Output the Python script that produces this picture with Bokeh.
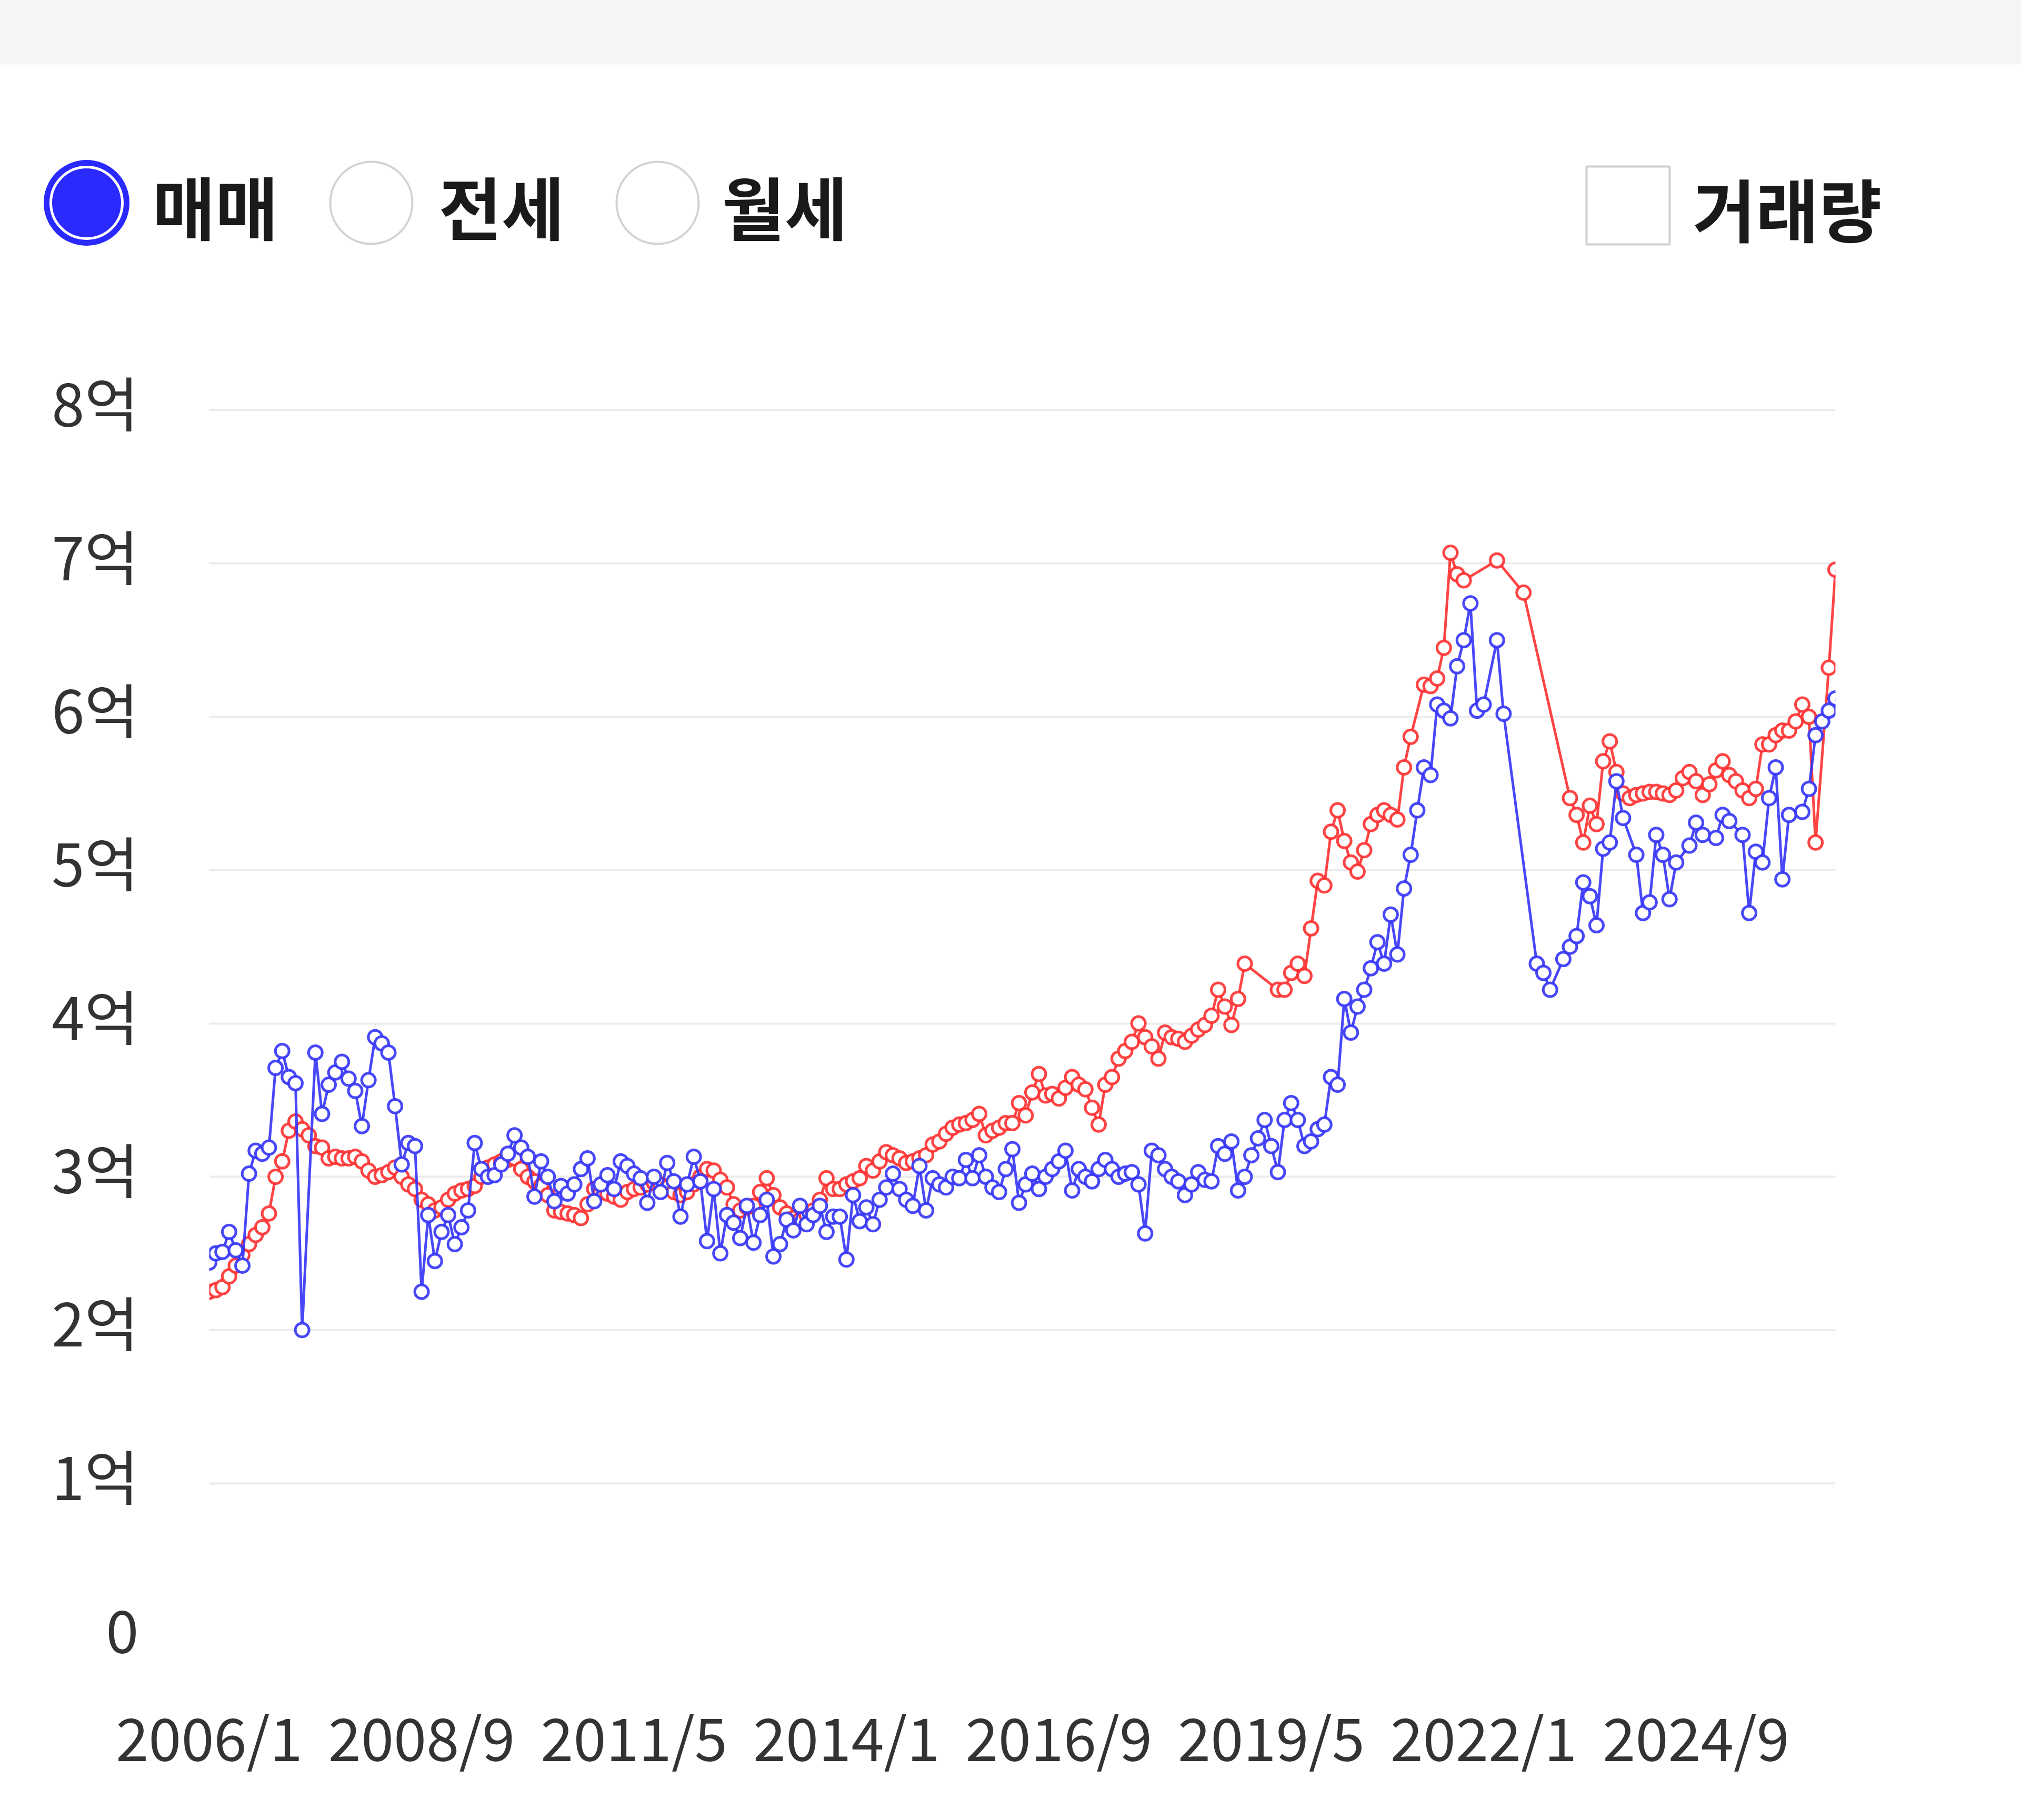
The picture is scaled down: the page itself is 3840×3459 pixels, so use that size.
from bokeh.plotting import figure
from bokeh.models import Range1d, FixedTicker, ColumnDataSource
from bokeh.embed import file_html
from bokeh.resources import INLINE
from bokeh.core.properties import value

# ---------------- data (억 원), one value per month from 2006/1; None = no point ----------------
START_YEAR = 2006

red_values = [
    2.25, 2.26, 2.28, 2.35, 2.42, 2.49, 2.56, 2.62, 2.67, 2.76,
    3.00, 3.10, 3.30, 3.36, 3.31, 3.27, 3.20, 3.19, 3.12, 3.13,
    3.12, 3.12, 3.13, 3.10, 3.04, 3.00, 3.01, 3.03, 3.06, 3.00,
    2.95, 2.92, 2.85, 2.82, 2.78, 2.80, 2.85, 2.89, 2.91, 2.92,
    2.94, 3.00, 3.06, 3.08, 3.10, 3.11, 3.12, 3.05, 3.00, 2.97,
    2.94, 2.88, 2.78, 2.77, 2.76, 2.75, 2.73, 2.82, 2.92, 2.90,
    2.89, 2.87, 2.85, 2.90, 2.92, 2.93, 2.95, 2.96, 2.95, 2.93,
    2.90, 2.88, 2.90, 2.95, 3.00, 3.05, 3.04, 2.98, 2.93, 2.82,
    2.78, 2.80, 2.81, 2.90, 2.99, 2.88, 2.80, 2.76, 2.73, 2.72,
    2.75, 2.78, 2.85, 2.99, 2.92, 2.92, 2.95, 2.97, 2.99, 3.07,
    3.04, 3.10, 3.16, 3.14, 3.12, 3.09, 3.10, 3.12, 3.14, 3.21,
    3.23, 3.28, 3.32, 3.34, 3.35, 3.37, 3.41, 3.27, 3.30, 3.32,
    3.35, 3.35, 3.48, 3.40, 3.55, 3.67, 3.53, 3.54, 3.51, 3.58,
    3.65, 3.60, 3.57, 3.45, 3.34, 3.60, 3.65, 3.77, 3.82, 3.88,
    4.00, 3.91, 3.85, 3.77, 3.94, 3.91, 3.90, 3.88, 3.92, 3.96,
    3.99, 4.05, 4.22, 4.11, 3.99, 4.16, 4.39, None, None, None,
    None, 4.22, 4.22, 4.33, 4.39, 4.31, 4.62, 4.93, 4.90, 5.25,
    5.39, 5.19, 5.05, 4.99, 5.13, 5.30, 5.36, 5.39, 5.36, 5.33,
    5.67, 5.87, None, 6.21, 6.20, 6.25, 6.45, 7.07, 6.93, 6.89,
    None, None, None, None, 7.02, None, None, None, 6.81, None,
    None, None, None, None, None, 5.47, 5.36, 5.18, 5.42, 5.30,
    5.71, 5.84, 5.64, 5.50, 5.47, 5.49, 5.50, 5.51, 5.51, 5.50,
    5.49, 5.52, 5.60, 5.64, 5.58, 5.49, 5.56, 5.65, 5.71, 5.62,
    5.58, 5.52, 5.47, 5.53, 5.82, 5.82, 5.88, 5.91, 5.91, 5.97,
    6.08, 6.00, 5.18, None, 6.32, 6.96,
]

blue_values = [
    2.44, 2.50, 2.51, 2.64, 2.52, 2.42, 3.02, 3.17, 3.15, 3.19,
    3.71, 3.82, 3.65, 3.61, 2.00, None, 3.81, 3.41, 3.60, 3.68,
    3.75, 3.64, 3.56, 3.33, 3.63, 3.91, 3.87, 3.81, 3.46, 3.08,
    3.22, 3.20, 2.25, 2.75, 2.45, 2.64, 2.75, 2.56, 2.67, 2.78,
    3.22, 3.05, 3.00, 3.01, 3.08, 3.15, 3.27, 3.19, 3.13, 2.87,
    3.10, 3.00, 2.84, 2.94, 2.89, 2.95, 3.05, 3.12, 2.84, 2.95,
    3.01, 2.92, 3.10, 3.07, 3.02, 2.99, 2.83, 3.00, 2.90, 3.09,
    2.97, 2.74, 2.95, 3.13, 2.97, 2.58, 2.92, 2.50, 2.75, 2.70,
    2.60, 2.81, 2.57, 2.75, 2.85, 2.48, 2.56, 2.72, 2.65, 2.81,
    2.69, 2.75, 2.81, 2.64, 2.74, 2.74, 2.46, 2.88, 2.71, 2.80,
    2.69, 2.85, 2.93, 3.02, 2.92, 2.85, 2.81, 3.07, 2.78, 2.99,
    2.95, 2.93, 3.00, 2.99, 3.11, 2.99, 3.14, 3.00, 2.93, 2.90,
    3.05, 3.18, 2.83, 2.95, 3.02, 2.92, 3.00, 3.05, 3.10, 3.17,
    2.91, 3.05, 3.00, 2.97, 3.05, 3.11, 3.05, 3.00, 3.02, 3.03,
    2.95, 2.63, 3.17, 3.14, 3.05, 3.00, 2.97, 2.88, 2.95, 3.03,
    2.98, 2.97, 3.20, 3.15, 3.23, 2.91, 3.00, 3.14, 3.25, 3.37,
    3.20, 3.03, 3.37, 3.48, 3.37, 3.20, 3.23, 3.31, 3.34, 3.65,
    3.60, 4.16, 3.94, 4.11, 4.22, 4.36, 4.53, 4.39, 4.71, 4.45,
    4.88, 5.10, 5.39, 5.67, 5.62, 6.08, 6.04, 5.99, 6.33, 6.50,
    6.74, 6.04, 6.08, None, 6.50, 6.02, None, None, None, None,
    4.39, 4.33, 4.22, None, 4.42, 4.50, 4.57, 4.92, 4.83, 4.64,
    5.14, 5.18, 5.58, 5.34, None, 5.10, 4.72, 4.79, 5.23, 5.10,
    4.81, 5.05, None, 5.16, 5.31, 5.23, None, 5.21, 5.36, 5.32,
    None, 5.23, 4.72, 5.12, 5.05, 5.47, 5.67, 4.94, 5.36, None,
    5.38, 5.53, 5.88, 5.97, 6.04, 6.12,
]

y_ticks = [0, 1, 2, 3, 4, 5, 6, 7, 8]
y_tick_labels = ["0", "1억", "2억", "3억", "4억", "5억", "6억", "7억", "8억"]
x_tick_labels = ["2006/1", "2008/9", "2011/5", "2014/1", "2016/9", "2019/5", "2022/1", "2024/9"]
deal_options = ["매매", "전세", "월세"]
volume_label = "거래량"

RED = "#ff3030"
BLUE = "#3434f8"
GRID = "#ececec"
FONT = "Noto Sans CJK KR"
LABEL_LIFT = 0.06   # y tick labels sit slightly above their grid lines
Y_TOP = 8.1         # a little head-room so the 8억 line and label are drawn

W, H = 3840, 3459
FL, FR, FB = 397, 3487, 3110            # frame edges on the canvas (px)
PX_PER_UNIT = 291.4
FT = int(round(FB - Y_TOP * PX_PER_UNIT))


def month_index(label):
    y, m = label.split("/")
    return (int(y) - START_YEAR) * 12 + int(m) - 1


def series_source(vals):
    xs = [i for i, v in enumerate(vals) if v is not None]
    ys = [v for v in vals if v is not None]
    return ColumnDataSource(dict(x=xs, y=ys))


n_months = len(red_values)
p = figure(width=W, height=H, x_range=Range1d(0, n_months - 1), y_range=Range1d(0, Y_TOP),
           output_backend="svg", toolbar_location=None,
           min_border_left=FL, min_border_right=W - FR,
           min_border_top=FT, min_border_bottom=H - FB)
p.outline_line_color = None
p.background_fill_color = "white"
p.border_fill_color = "white"

# pixel-space ranges for the header controls (canvas px, y downward)
p.extra_x_ranges = {"px": Range1d(FL, FR)}
p.extra_y_ranges = {"py": Range1d(FB, FT)}

# ---------------- axes ----------------
label_pos = [t + LABEL_LIFT for t in y_ticks]
p.yaxis.ticker = FixedTicker(ticks=label_pos)
p.yaxis.major_label_overrides = {t: lab for t, lab in zip(label_pos, y_tick_labels)}
x_tick_pos = [month_index(l) for l in x_tick_labels]
p.xaxis.ticker = FixedTicker(ticks=x_tick_pos)
p.xaxis.major_label_overrides = {t: lab for t, lab in zip(x_tick_pos, x_tick_labels)}

for ax in (p.xaxis, p.yaxis):
    ax.axis_line_color = None
    ax.major_tick_line_color = None
    ax.minor_tick_line_color = None
    ax.major_label_text_font = FONT
    ax.major_label_text_font_size = "112px"
    ax.major_label_text_color = "#333333"
p.yaxis.major_label_standoff = 128
p.xaxis.major_label_standoff = 100

p.ygrid.ticker = FixedTicker(ticks=y_ticks[1:])
p.ygrid.grid_line_color = GRID
p.ygrid.grid_line_width = 4
p.xgrid.ticker = FixedTicker(ticks=[0, n_months - 1])
p.xgrid.bounds = (y_ticks[0], y_ticks[-1])
p.xgrid.grid_line_color = GRID
p.xgrid.grid_line_width = 4

# ---------------- series ----------------
red_src = series_source(red_values)
blue_src = series_source(blue_values)

p.line("x", "y", source=red_src, line_color=RED, line_width=5, line_alpha=0.9)
p.scatter("x", "y", source=red_src, size=26, fill_color="white", line_color=RED,
          line_width=5, line_alpha=0.9)
p.line("x", "y", source=blue_src, line_color=BLUE, line_width=5, line_alpha=0.9)
p.scatter("x", "y", source=blue_src, size=26, fill_color="white", line_color=BLUE,
          line_width=5, line_alpha=0.9)

# ---------------- header controls (outside the frame) ----------------
hdr = dict(x_range_name="px", y_range_name="py")
header_renderers = []
header_renderers.append(p.quad(left=0, right=W, top=0, bottom=122,
                               fill_color="#f5f5f5", line_color=None, **hdr))


def round_box(cx, cy, d, **kw):
    return p.quad(left=cx - d / 2, right=cx + d / 2, top=cy - d / 2, bottom=cy + d / 2,
                  border_radius=int(d // 2), **hdr, **kw)


radio_x = [164, 705, 1249]
radio_y = 385
header_renderers.append(round_box(radio_x[0], radio_y, 160, fill_color="#2a2aff",
                                  line_color="#2a2aff", line_width=3))
header_renderers.append(round_box(radio_x[0], radio_y, 136, fill_color=None,
                                  line_color="white", line_width=5))
for rx in radio_x[1:]:
    header_renderers.append(round_box(rx, radio_y, 156, fill_color="white",
                                      line_color="#d2d2d2", line_width=4))
header_renderers.append(p.text(x=[289, 833, 1371], y=[388] * 3, text=deal_options,
                               text_font=value(FONT), text_font_style="bold",
                               text_font_size="130px", text_baseline="middle",
                               text_align="left", text_color="#1a1a1a", **hdr))
header_renderers.append(p.quad(left=3014, right=3172, top=316, bottom=464, fill_color="white",
                               line_color="#cfcfcf", line_width=4, **hdr))
header_renderers.append(p.text(x=[3216], y=[392], text=[volume_label],
                               text_font=value(FONT), text_font_style="bold",
                               text_font_size="130px", text_baseline="middle",
                               text_align="left", text_color="#1a1a1a", **hdr))
for r in header_renderers:
    r.level = "overlay"

open("out.html", "w").write(file_html(p, INLINE))
